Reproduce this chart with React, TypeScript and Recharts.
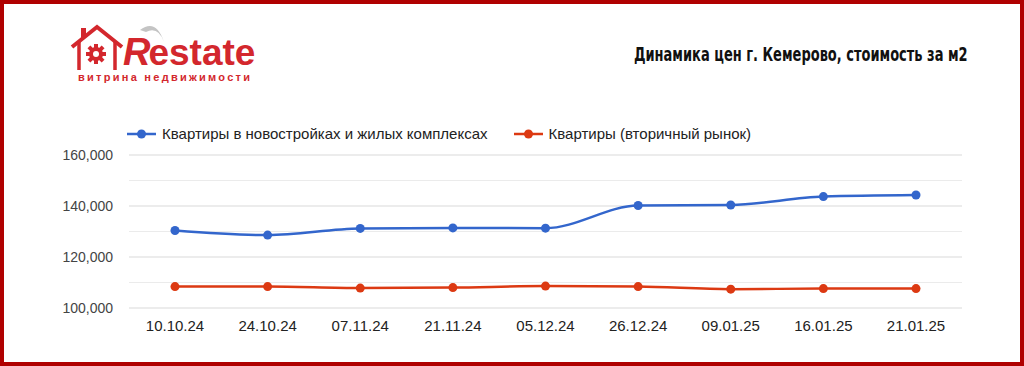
import React, { useLayoutEffect, useRef, useState } from 'react';
import { LineChart, Line, XAxis, YAxis, CartesianGrid, Legend } from 'recharts';

const dates = ['10.10.24', '24.10.24', '07.11.24', '21.11.24', '05.12.24', '26.12.24', '09.01.25', '16.01.25', '21.01.25'];
const newBuildings = [130400, 128600, 131200, 131400, 131300, 140200, 140400, 143700, 144300];
const secondary = [108400, 108400, 107800, 108000, 108600, 108400, 107400, 107600, 107600];
const yTicks = [100000, 120000, 140000, 160000];
const minorGrid = [110000, 130000, 150000];
const seriesNames = ['Квартиры в новостройках и жилых комплексах', 'Квартиры (вторичный рынок)'];
const title = 'Динамика цен г. Кемерово, стоимость за м2';

const data = dates.map((d, i) => ({ date: d, a: newBuildings[i], b: secondary[i] }));

const BLUE = '#3366cc';
const RED = '#dc3912';
const FONT = 'Arial, "Liberation Sans", sans-serif';

const fmt = (v: number) => v.toLocaleString('en-US');

const LegendContent = (props: any) => {
  const items = [...(props.payload || [])].sort(
    (x: any, y: any) => seriesNames.indexOf(x.value) - seriesNames.indexOf(y.value)
  );
  return (
    <div style={{ display: 'flex', fontFamily: FONT, fontSize: 15, color: '#222', whiteSpace: 'nowrap' }}>
      {items.map((it: any, i: number) => (
        <div key={i} style={{ display: 'flex', alignItems: 'center', marginRight: i === 0 ? 26 : 0 }}>
          <svg width={29} height={12} style={{ marginRight: 6 }}>
            <line x1={0} y1={6} x2={29} y2={6} stroke={it.color} strokeWidth={2.5} />
            <circle cx={14.5} cy={6} r={4.5} fill={it.color} />
          </svg>
          <span>{it.value}</span>
        </div>
      ))}
    </div>
  );
};

const Logo = () => (
  <svg width={220} height={70} style={{ position: 'absolute', left: 66, top: 18 }}>
    <path d="M6 29 L31 9 L56 29" fill="none" stroke="#d3272d" strokeWidth={4} strokeLinejoin="miter" />
    <path d="M13 24 L13 52 M49 24 L49 52" fill="none" stroke="#d3272d" strokeWidth={3.5} />
    <rect x={15} y={10} width={5} height={10} fill="#d3272d" />
    <g transform="translate(30,36)" fill="#d3272d">
      {[0, 45, 90, 135, 180, 225, 270, 315].map((a) => (
        <rect key={a} x={-2} y={-10} width={4} height={5} transform={`rotate(${a})`} />
      ))}
      <circle r={7} />
      <circle r={3} fill="#fff" />
    </g>
    <path d="M74 12 Q90 0 98 24 Q92 8 80 14 Z" fill="#c4c4c4" />
    <text x={57} y={47} fontFamily={FONT} fontWeight="bold" fontSize={37} fill="#d3272d">
      <tspan fontStyle="italic" fontSize={38}>R</tspan>
      <tspan dx={-2}>estate</tspan>
    </text>
    <text x={12} y={63} fontFamily={FONT} fontWeight="bold" fontSize={11} fill="#d3272d" textLength={172} lengthAdjust="spacing">витрина недвижимости</text>
  </svg>
);

const Title = () => {
  const ref = useRef<HTMLSpanElement>(null);
  const [scale, setScale] = useState(0.78);
  useLayoutEffect(() => {
    if (ref.current) {
      const w = ref.current.offsetWidth;
      if (w > 0) setScale(334 / w);
    }
  }, []);
  return (
    <div style={{ position: 'absolute', right: 56, top: 40, height: 28, whiteSpace: 'nowrap' }}>
      <span
        ref={ref}
        style={{
          display: 'inline-block',
          fontFamily: '"DejaVu Sans Condensed", "DejaVu Sans", sans-serif',
          fontWeight: 'bold',
          fontSize: 19,
          lineHeight: '28px',
          color: '#111',
          transform: `scaleX(${scale})`,
          transformOrigin: 'right center',
        }}
      >
        {title}
      </span>
    </div>
  );
};

export default function App() {
  return (
    <div style={{ position: 'fixed', left: 0, top: 0, width: 1024, height: 366, background: '#fff' }}>
      <Logo />
      <Title />
      <div style={{ position: 'absolute', left: 0, top: 0 }}>
        <LineChart width={1024} height={366} data={data} margin={{ top: 155, right: 62, bottom: 28, left: 0 }}>
          <CartesianGrid horizontal vertical={false} stroke="#ebebeb" strokeWidth={1} horizontalValues={minorGrid} />
          <CartesianGrid horizontal vertical={false} stroke="#d9d9d9" strokeWidth={1} horizontalValues={yTicks} />
          <XAxis dataKey="date" axisLine={false} tickLine={false} height={30} padding={{ left: 46, right: 46 }} tick={{ fill: '#222', fontSize: 15, fontFamily: FONT }} tickMargin={6} interval={0} />
          <YAxis width={129} domain={[100000, 160000]} ticks={yTicks} tickFormatter={fmt} axisLine={false} tickLine={false} tick={{ fill: '#444', fontSize: 14, fontFamily: FONT }} tickMargin={10} />
          <Legend layout="horizontal" verticalAlign="middle" align="center" wrapperStyle={{ top: 125, left: 127, width: 'auto', height: 20 }} content={<LegendContent />} />
          <Line type="monotone" dataKey="a" name={seriesNames[0]} stroke={BLUE} strokeWidth={2.5} dot={{ r: 4.5, fill: BLUE, stroke: BLUE, strokeWidth: 0 }} isAnimationActive={false} />
          <Line type="monotone" dataKey="b" name={seriesNames[1]} stroke={RED} strokeWidth={2.5} dot={{ r: 4.5, fill: RED, stroke: RED, strokeWidth: 0 }} isAnimationActive={false} />
        </LineChart>
      </div>
      <div style={{ position: 'absolute', left: 0, top: 0, width: 1024, height: 366, boxSizing: 'border-box', border: '4px solid #b00000', pointerEvents: 'none' }} />
    </div>
  );
}
